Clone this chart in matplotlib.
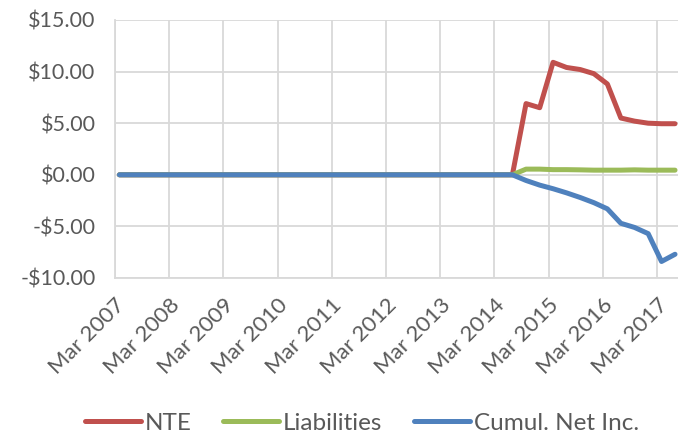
import numpy as np
import pandas as pd
import matplotlib
matplotlib.use("Agg")
import matplotlib.pyplot as plt

plt.rcParams['font.family'] = ['Lato', 'DejaVu Sans']

# quarterly data, Mar 2007 .. Jun 2017
dates = pd.date_range('2007-03-31', periods=42, freq='QE')
zeros = [0.0] * 30  # Mar 2007 .. Jun 2014

nte = zeros + [6.9, 6.5, 10.9, 10.4, 10.2, 9.8, 8.8, 5.5, 5.2, 5.0, 4.95, 4.95]
liabilities = zeros + [0.55, 0.55, 0.5, 0.5, 0.48, 0.45, 0.45, 0.45, 0.48, 0.45, 0.45, 0.45]
net_inc = zeros + [-0.55, -1.0, -1.35, -1.75, -2.2, -2.7, -3.3, -4.7, -5.1, -5.7, -8.4, -7.7]

years = list(range(2007, 2018))
tick_dates = [pd.Timestamp(y, 3, 1) for y in years]
tick_labels = ['Mar %d' % y for y in years]

fig = plt.figure(figsize=(6.78, 4.37), dpi=100)
ax = fig.add_axes([115 / 678, (437 - 278) / 437, 1 - 115 / 678, 258 / 437])

lw = 3.6
ax.plot(dates, nte, color='#C0504D', lw=lw, label='NTE', solid_capstyle='round', solid_joinstyle='round')
ax.plot(dates, liabilities, color='#9BBB59', lw=lw, label='Liabilities', solid_capstyle='round', solid_joinstyle='round')
ax.plot(dates, net_inc, color='#4F81BD', lw=lw, label='Cumul. Net Inc.', solid_capstyle='round', solid_joinstyle='round')

ax.set_ylim(-10, 15)
ax.set_yticks([-10, -5, 0, 5, 10, 15])
ax.set_yticklabels(['-$10.00', '-$5.00', '$0.00', '$5.00', '$10.00', '$15.00'])
ax.set_xlim(pd.Timestamp(2007, 3, 1), pd.Timestamp(2017, 7, 20))
ax.set_xticks(tick_dates)
ax.set_xticklabels(tick_labels, rotation=45, ha='right', va='top', rotation_mode='anchor',
                   fontsize=16)

ax.grid(True, color='#D9D9D9', lw=1.3)
ax.set_axisbelow(True)
for s in ['top', 'right']:
    ax.spines[s].set_visible(False)
for s in ['left', 'bottom']:
    ax.spines[s].set_color('#D9D9D9')
    ax.spines[s].set_linewidth(1.3)
ax.tick_params(axis='both', length=0, colors='#595959')
ax.tick_params(axis='y', labelsize=15.5, pad=14)
ax.tick_params(axis='x', pad=12)

fig.legend(loc='center', bbox_to_anchor=(362 / 678, 1 - 423 / 437), ncol=3, frameon=False,
           fontsize=17.5, handlelength=2.3, handletextpad=0.16, columnspacing=1.3,
           labelcolor='#595959')

fig.savefig('out.png', dpi=100)
